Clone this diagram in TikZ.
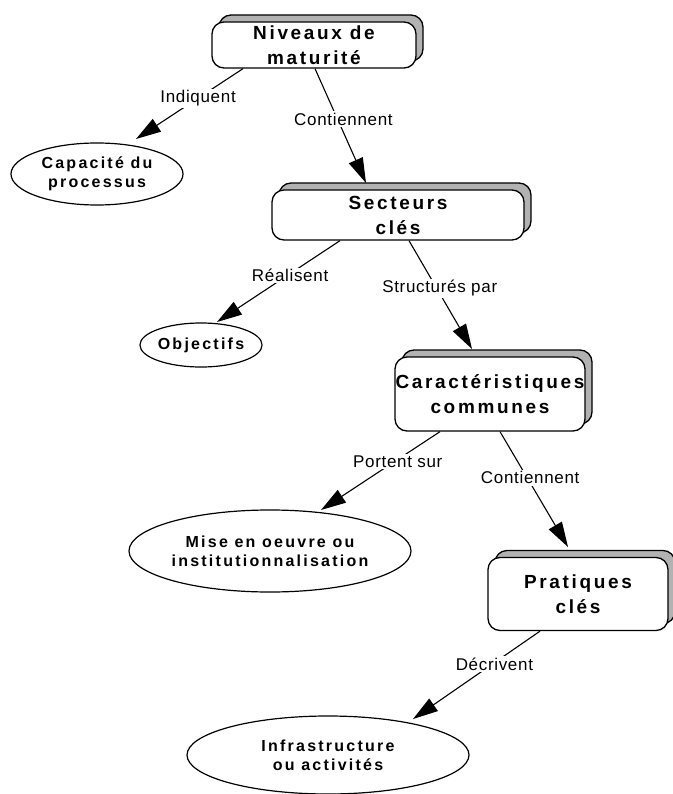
\documentclass[tikz,border=0pt]{standalone}
\usepackage{fontspec}
\setmainfont{Liberation Sans}
\newfontfamily\boxfont[LetterSpace=14]{Liberation Sans}
\newfontfamily\lblfont[LetterSpace=4]{Liberation Sans}
\usetikzlibrary{shapes.geometric,shadows,arrows.meta}
\begin{document}
\begin{tikzpicture}[x=1pt,y=-1pt,
  concept/.style={rectangle, rounded corners=12pt, draw=black, line width=1.3pt, fill=white,
    inner sep=0pt, align=center, font=\boxfont\bfseries\fontsize{19}{25}\selectfont,
    copy shadow={shadow xshift=7pt, shadow yshift=7pt, fill=black!30, draw=black, line width=1.3pt}},
  oval/.style={ellipse, draw=black, line width=1.2pt, fill=white, inner sep=0pt, align=center,
    font=\boxfont\bfseries\fontsize{16}{19}\selectfont},
  lbl/.style={fill=white, inner sep=1.5pt, font=\lblfont\fontsize{17}{20}\selectfont},
  conn/.style={line width=1.1pt, -{Triangle[length=25pt,width=15pt]}}
]
\useasboundingbox (0,0) rectangle (672,794);

% concept boxes
\node[concept, minimum width=204pt, minimum height=46pt] (niv) at (314,45) {Niveaux de\\maturité};
\node[concept, minimum width=252pt, minimum height=50pt] (sec) at (398,215) {Secteurs\\clés};
\node[concept, minimum width=190pt, minimum height=74pt] (car) at (490,394) {Caractéristiques\\communes};
\node[concept, minimum width=180pt, minimum height=73pt] (pra) at (578,594) {Pratiques\\clés};

% ellipses
\node[oval, minimum width=172pt, minimum height=62pt] (cap) at (97,174) {Capacité du\\processus};
\node[oval, minimum width=112pt, minimum height=44pt] (obj) at (201,345) {Objectifs};
\node[oval, minimum width=282pt, minimum height=82pt] (mise) at (270,551) {Mise en oeuvre ou\\institutionnalisation};
\node[oval, minimum width=282pt, minimum height=78pt] (inf) at (328,755) {Infrastructure\\ou activités};

% connector endpoints
\coordinate (s1) at ([xshift=-71pt]niv.south);
\coordinate (t1) at (136,139);
\coordinate (s2) at ([xshift=1pt]niv.south);
\coordinate (t2) at (366,183);
\coordinate (s3) at ([xshift=-58pt]sec.south);
\coordinate (t3) at (217,322);
\coordinate (s4) at ([xshift=11pt]sec.south);
\coordinate (t4) at (472,349);
\coordinate (s5) at ([xshift=-50pt]car.south);
\coordinate (t5) at (321,510);
\coordinate (s6) at ([xshift=10pt]car.south);
\coordinate (t6) at (568,547);
\coordinate (s7) at ([xshift=-38pt]pra.south);
\coordinate (t7) at (413,719);

\draw[conn] (s1) -- node[lbl, pos=0.42] (l1) {Indiquent} (t1);
\draw[conn] (s2) -- node[lbl, pos=0.44, xshift=6pt] (l2) {Contiennent} (t2);
\draw[conn] (s3) -- node[lbl, pos=0.43, xshift=3pt] (l3) {Réalisent} (t3);
\draw[conn] (s4) -- node[lbl, pos=0.44, xshift=3pt] (l4) {Structurés par} (t4);
\draw[conn] (s5) -- node[lbl, pos=0.38, xshift=3pt] (l5) {Portent sur} (t5);
\draw[conn] (s6) -- node[lbl, pos=0.40, xshift=3pt] (l6) {Contiennent} (t6);
\draw[conn] (s7) -- node[lbl, pos=0.375, xshift=2pt] (l7) {Décrivent} (t7);
\end{tikzpicture}
\end{document}
